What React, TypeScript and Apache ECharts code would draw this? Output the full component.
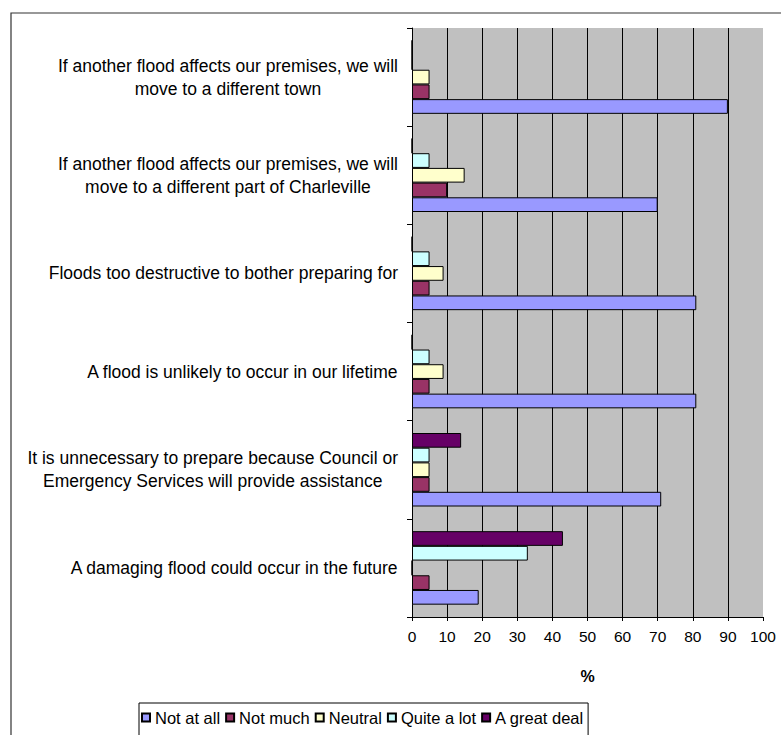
import React, { useEffect, useRef } from "react";
import * as echarts from "echarts";

// Statements, listed bottom to top as they appear on the category axis
const categories = [
  "A damaging flood could occur in the future",
  "It is unnecessary to prepare because Council or\nEmergency Services will provide assistance",
  "A flood is unlikely to occur in our lifetime",
  "Floods too destructive to bother preparing for",
  "If another flood affects our premises, we will\nmove to a different part of Charleville",
  "If another flood affects our premises, we will\nmove to a different town",
];

const notAtAll = [19, 71, 81, 81, 70, 90];
const notMuch = [5, 5, 5, 5, 10, 5];
const neutral = [0, 5, 9, 9, 15, 5];
const quiteALot = [33, 5, 5, 5, 5, 0];
const aGreatDeal = [43, 14, 0, 0, 0, 0];

const legendOrder = ["Not at all", "Not much", "Neutral", "Quite a lot", "A great deal"];
const xTicks = { min: 0, max: 100, interval: 10 };

const FONT = "'Liberation Sans', Arial, sans-serif";

export default function App() {
  const ref = useRef<HTMLDivElement>(null);

  useEffect(() => {
    if (!ref.current) return;
    const chart = echarts.init(ref.current, null, { renderer: "svg" });

    const mk = (name: string, data: number[], color: string) => ({
      name,
      type: "bar",
      data,
      barWidth: 14.7,
      barGap: "0%",
      barCategoryGap: "25%",
      itemStyle: { color, borderColor: "#000", borderWidth: 1 },
    });

    chart.setOption({
      animation: false,
      backgroundColor: "#fff",
      textStyle: { fontFamily: FONT },
      graphic: [
        {
          type: "rect",
          shape: { x: 11, y: 13, width: 820, height: 800 },
          style: { fill: "none", stroke: "#333", lineWidth: 1.2 },
          silent: true,
        },
      ],
      grid: {
        left: 412,
        top: 28,
        width: 351,
        height: 589,
        show: true,
        backgroundColor: "#C0C0C0",
        borderWidth: 0,
      },
      legend: {
        left: 139,
        top: 703,
        padding: [6, 4, 30, 2],
        borderColor: "#000",
        borderWidth: 1,
        itemWidth: 8,
        itemHeight: 8,
        itemGap: 5,
        icon: "rect",
        textStyle: { fontSize: 16.5, color: "#000", fontFamily: FONT },
        data: legendOrder,
      },
      xAxis: {
        type: "value",
        min: xTicks.min,
        max: xTicks.max,
        interval: xTicks.interval,
        name: "%",
        nameLocation: "middle",
        nameGap: 51,
        nameTextStyle: { fontSize: 16, fontWeight: "bold", color: "#000" },
        axisLine: { show: true, lineStyle: { color: "#000", width: 1 } },
        axisTick: { show: true, length: 4, lineStyle: { color: "#000" } },
        axisLabel: { fontSize: 15.5, color: "#000", margin: 11 },
        splitLine: {
          show: true,
          showMinLine: false,
          showMaxLine: false,
          lineStyle: { color: "#000", width: 1 },
        },
      },
      yAxis: {
        type: "category",
        data: categories,
        axisLine: { show: true, lineStyle: { color: "#000", width: 1 } },
        axisTick: { show: true, length: 5, lineStyle: { color: "#000" } },
        splitLine: { show: false },
        axisLabel: {
          margin: 14,
          color: "#000",
          fontSize: 17.5,
          lineHeight: 23,
          formatter: (v: string) =>
            v
              .split("\n")
              .map((l) => `{c|${l}}`)
              .join("\n"),
          rich: {
            c: { align: "center", fontSize: 17.5, lineHeight: 23, color: "#000", fontFamily: FONT },
          },
        },
      },
      // drawn top-down inside each category: "A great deal" on top, "Not at all" at the bottom
      series: [
        mk("A great deal", aGreatDeal, "#660066"),
        mk("Quite a lot", quiteALot, "#CCFFFF"),
        mk("Neutral", neutral, "#FFFFCC"),
        mk("Not much", notMuch, "#993366"),
        mk("Not at all", notAtAll, "#9999FF"),
      ],
    });

    return () => chart.dispose();
  }, []);

  return (
    <div
      ref={ref}
      style={{ position: "fixed", left: 0, top: 0, width: 781, height: 735 }}
    />
  );
}
